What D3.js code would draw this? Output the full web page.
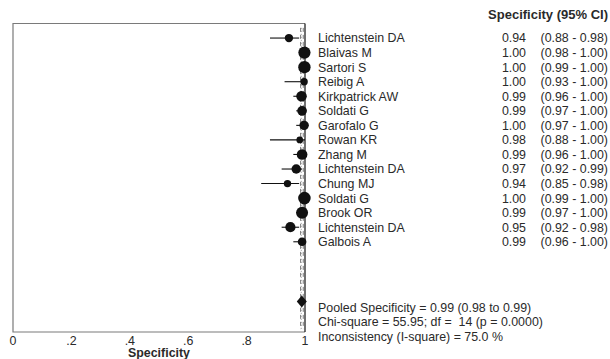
<!DOCTYPE html>
<html>
<head>
<meta charset="utf-8">
<script src="https://cdn.jsdelivr.net/npm/d3@7"></script>
<style>
  body { margin: 0; background: #fff; }
  svg { display: block; font-family: "Liberation Sans", Arial, sans-serif; }
  text { white-space: pre; }
</style>
</head>
<body>
<svg id="chart" width="610" height="359"></svg>
<script>
// study data
const studies = ["Lichtenstein DA", "Blaivas M", "Sartori S", "Reibig A", "Kirkpatrick AW",
  "Soldati G", "Garofalo G", "Rowan KR", "Zhang M", "Lichtenstein DA",
  "Chung MJ", "Soldati G", "Brook OR", "Lichtenstein DA", "Galbois A"];
const spec  = [0.945, 0.998, 0.998, 0.997, 0.988, 0.99, 0.997, 0.982, 0.99, 0.97, 0.94, 0.998, 0.99, 0.95, 0.99];
const lower = [0.88, 0.98, 0.99, 0.93, 0.96, 0.97, 0.97, 0.88, 0.96, 0.92, 0.85, 0.99, 0.97, 0.92, 0.96];
const upper = [0.98, 1.00, 1.00, 1.00, 1.00, 1.00, 1.00, 1.00, 1.00, 0.99, 0.98, 1.00, 1.00, 0.98, 1.00];
const specLabels = ["0.94", "1.00", "1.00", "1.00", "0.99", "0.99", "1.00", "0.98", "0.99", "0.97", "0.94", "1.00", "0.99", "0.95", "0.99"];
const ciLabels = ["(0.88 - 0.98)", "(0.98 - 1.00)", "(0.99 - 1.00)", "(0.93 - 1.00)", "(0.96 - 1.00)",
  "(0.97 - 1.00)", "(0.97 - 1.00)", "(0.88 - 1.00)", "(0.96 - 1.00)", "(0.92 - 0.99)",
  "(0.85 - 0.98)", "(0.99 - 1.00)", "(0.97 - 1.00)", "(0.92 - 0.98)", "(0.96 - 1.00)"];
// study weights (marker area)
const weights = [28, 60, 62, 22, 45, 38, 36, 18, 46, 36, 22, 64, 58, 42, 30];

const pooled = {est: 0.989, lo: 0.985, hi: 0.994};
const summaryLines = [
  "Pooled Specificity = 0.99 (0.98 to 0.99)",
  "Chi-square = 55.95; df =  14 (p = 0.0000)",
  "Inconsistency (I-square) = 75.0 %"
];
const xTicks = [0, 0.2, 0.4, 0.6, 0.8, 1];
const xTickLabels = ["0", ".2", ".4", ".6", ".8", "1"];

const svg = d3.select("#chart");
const textColor = "#2a2a2a";
const fs = 12.4;

const x = d3.scaleLinear().domain([0, 1]).range([13, 305]);
const y = d3.scaleLinear().domain([0, 21.2]).range([23.5, 332]);
const r = d3.scaleSqrt().domain([0, 64]).range([0, 6.3]);

// plot frame
svg.append("path")
  .attr("d", `M${x(1)},${y(0)}H${x(0)}V${y(21.2)}H${x(1)}`)
  .attr("fill", "none")
  .attr("stroke", "#7a7a7a")
  .attr("stroke-width", 1.2);

// reference lines at pooled estimate and bounds
[pooled.lo, pooled.hi].forEach(v => {
  svg.append("line")
    .attr("x1", x(v)).attr("x2", x(v))
    .attr("y1", y(0.3)).attr("y2", y(21))
    .attr("stroke", "#555")
    .attr("stroke-width", 0.8)
    .attr("stroke-dasharray", "4,3");
});
svg.append("line")
  .attr("x1", x(pooled.est) - 0.5).attr("x2", x(pooled.est) - 0.5)
  .attr("y1", y(0.3)).attr("y2", y(21))
  .attr("stroke", "#777")
  .attr("stroke-width", 0.7)
  .attr("stroke-dasharray", "1,2");

// x = 1 line
svg.append("line")
  .attr("x1", x(1)).attr("x2", x(1))
  .attr("y1", y(0)).attr("y2", y(21.2))
  .attr("stroke", "#111")
  .attr("stroke-width", 1.2);

// confidence intervals
const rows = studies.map((s, i) => ({i: i + 1, est: spec[i], lo: lower[i], hi: upper[i], w: weights[i]}));
svg.append("g").selectAll("line")
  .data(rows)
  .join("line")
  .attr("x1", d => x(d.lo)).attr("x2", d => x(d.hi))
  .attr("y1", d => y(d.i)).attr("y2", d => y(d.i))
  .attr("stroke", "#111")
  .attr("stroke-width", 1.1);

svg.append("g").selectAll("circle")
  .data(rows)
  .join("circle")
  .attr("cx", d => x(d.est))
  .attr("cy", d => y(d.i))
  .attr("r", d => r(d.w))
  .attr("fill", "#111");

// pooled diamond
const dy = y(19) + 1.5, dx = x(pooled.est);
svg.append("path")
  .attr("d", `M${dx - 5},${dy}L${dx},${dy - 6}L${dx + 5},${dy}L${dx},${dy + 6}Z`)
  .attr("fill", "#111");

// x axis tick labels
svg.append("g").selectAll("text")
  .data(xTicks)
  .join("text")
  .attr("x", d => x(d))
  .attr("y", 345)
  .attr("text-anchor", "middle")
  .attr("font-size", fs)
  .attr("fill", textColor)
  .text((d, i) => xTickLabels[i]);

svg.append("text")
  .attr("x", (x(0) + x(1)) / 2)
  .attr("y", 357)
  .attr("text-anchor", "middle")
  .attr("font-size", 12.4)
  .attr("font-weight", "bold")
  .attr("fill", textColor)
  .text("Specificity");

// right hand text columns
svg.append("text")
  .attr("x", 608).attr("y", 18.5)
  .attr("text-anchor", "end")
  .attr("font-size", 13)
  .attr("font-weight", "bold")
  .attr("fill", textColor)
  .text("Specificity (95% CI)");

const labels = svg.append("g")
  .attr("font-size", fs)
  .attr("fill", textColor);

labels.selectAll(".name")
  .data(rows)
  .join("text")
  .attr("class", "name")
  .attr("x", 318)
  .attr("y", d => y(d.i) + 4.4)
  .text(d => studies[d.i - 1]);

labels.selectAll(".val")
  .data(rows)
  .join("text")
  .attr("class", "val")
  .attr("x", 526)
  .attr("y", d => y(d.i) + 4.4)
  .attr("text-anchor", "end")
  .text(d => specLabels[d.i - 1]);

labels.selectAll(".ci")
  .data(rows)
  .join("text")
  .attr("class", "ci")
  .attr("x", 608)
  .attr("y", d => y(d.i) + 4.4)
  .attr("text-anchor", "end")
  .text(d => ciLabels[d.i - 1]);

labels.selectAll(".sum")
  .data(summaryLines)
  .join("text")
  .attr("class", "sum")
  .attr("x", 318)
  .attr("y", (d, i) => y(19.5 + i) + 4.4)
  .text(d => d);
</script>
</body>
</html>
